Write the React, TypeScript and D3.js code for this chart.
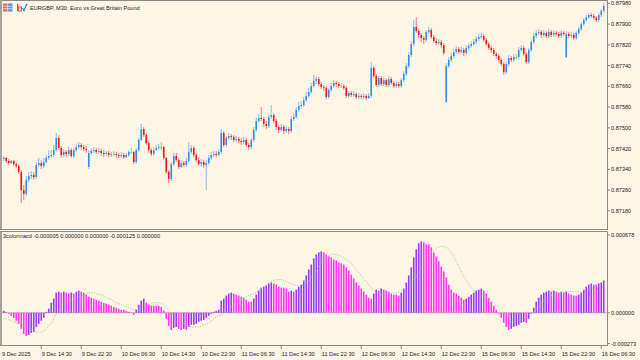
import React from 'react';
import { scaleBand, scaleLinear, line } from 'd3';

// EURGBP M30 candles (242 bars, 9 Dec 2025 -> 16 Dec 2025)
const opens = [
  0.87387,0.87380,0.87384,0.87372,0.87364,0.87372,0.87360,0.87353,0.87330,0.87260,
  0.87245,0.87299,0.87314,0.87318,0.87310,0.87357,0.87364,0.87353,0.87368,0.87384,
  0.87391,0.87395,0.87414,0.87461,0.87422,0.87395,0.87407,0.87399,0.87414,0.87391,
  0.87414,0.87426,0.87434,0.87426,0.87418,0.87349,0.87403,0.87411,0.87414,0.87407,
  0.87411,0.87403,0.87399,0.87403,0.87395,0.87399,0.87399,0.87395,0.87391,0.87395,
  0.87387,0.87395,0.87407,0.87407,0.87368,0.87414,0.87453,0.87495,0.87472,0.87441,
  0.87414,0.87399,0.87414,0.87422,0.87426,0.87426,0.87384,0.87330,0.87303,0.87360,
  0.87391,0.87376,0.87349,0.87364,0.87357,0.87372,0.87407,0.87422,0.87395,0.87376,
  0.87360,0.87368,0.87357,0.87364,0.87384,0.87395,0.87399,0.87395,0.87407,0.87480,
  0.87434,0.87461,0.87468,0.87465,0.87453,0.87457,0.87449,0.87445,0.87453,0.87434,
  0.87426,0.87453,0.87492,0.87526,0.87538,0.87534,0.87515,0.87507,0.87542,0.87549,
  0.87526,0.87503,0.87492,0.87503,0.87488,0.87495,0.87488,0.87534,0.87542,0.87569,
  0.87584,0.87588,0.87607,0.87623,0.87638,0.87661,0.87681,0.87688,0.87669,0.87657,
  0.87654,0.87619,0.87646,0.87661,0.87673,0.87669,0.87661,0.87661,0.87654,0.87623,
  0.87634,0.87627,0.87630,0.87619,0.87623,0.87619,0.87623,0.87615,0.87623,0.87731,
  0.87700,0.87665,0.87692,0.87669,0.87684,0.87665,0.87688,0.87673,0.87661,0.87669,
  0.87661,0.87684,0.87708,0.87738,0.87781,0.87823,0.87889,0.87873,0.87858,0.87846,
  0.87839,0.87870,0.87877,0.87850,0.87835,0.87827,0.87831,0.87819,0.87600,0.87738,
  0.87762,0.87777,0.87792,0.87804,0.87792,0.87800,0.87789,0.87808,0.87816,0.87823,
  0.87831,0.87843,0.87850,0.87854,0.87839,0.87823,0.87808,0.87800,0.87785,0.87777,
  0.87762,0.87746,0.87715,0.87746,0.87769,0.87762,0.87773,0.87773,0.87800,0.87808,
  0.87785,0.87754,0.87800,0.87831,0.87854,0.87866,0.87870,0.87858,0.87866,0.87854,
  0.87870,0.87858,0.87866,0.87862,0.87854,0.87866,0.87773,0.87862,0.87854,0.87858,
  0.87846,0.87866,0.87881,0.87900,0.87916,0.87927,0.87935,0.87931,0.87924,0.87916,
  0.87935,0.87951,
];

const highs = [
  0.87395,0.87391,0.87387,0.87380,0.87376,0.87376,0.87368,0.87360,0.87337,0.87279,
  0.87314,0.87330,0.87333,0.87330,0.87368,0.87384,0.87376,0.87384,0.87395,0.87414,
  0.87414,0.87434,0.87480,0.87472,0.87430,0.87418,0.87414,0.87426,0.87422,0.87422,
  0.87438,0.87445,0.87441,0.87434,0.87430,0.87414,0.87422,0.87426,0.87422,0.87422,
  0.87418,0.87414,0.87411,0.87411,0.87407,0.87411,0.87407,0.87403,0.87407,0.87403,
  0.87403,0.87414,0.87422,0.87411,0.87422,0.87461,0.87515,0.87503,0.87480,0.87449,
  0.87422,0.87426,0.87434,0.87438,0.87445,0.87430,0.87387,0.87337,0.87368,0.87403,
  0.87403,0.87384,0.87376,0.87372,0.87384,0.87445,0.87434,0.87430,0.87403,0.87387,
  0.87380,0.87376,0.87376,0.87395,0.87407,0.87411,0.87411,0.87418,0.87495,0.87488,
  0.87468,0.87480,0.87476,0.87472,0.87468,0.87465,0.87461,0.87465,0.87461,0.87441,
  0.87461,0.87503,0.87538,0.87553,0.87580,0.87542,0.87526,0.87553,0.87588,0.87557,
  0.87534,0.87511,0.87515,0.87511,0.87507,0.87503,0.87546,0.87557,0.87580,0.87600,
  0.87603,0.87619,0.87638,0.87654,0.87673,0.87704,0.87700,0.87696,0.87677,0.87665,
  0.87661,0.87654,0.87673,0.87684,0.87681,0.87677,0.87673,0.87669,0.87661,0.87642,
  0.87642,0.87642,0.87638,0.87634,0.87630,0.87634,0.87630,0.87634,0.87754,0.87738,
  0.87708,0.87700,0.87700,0.87696,0.87692,0.87700,0.87696,0.87681,0.87681,0.87677,
  0.87692,0.87719,0.87750,0.87792,0.87835,0.87916,0.87927,0.87881,0.87866,0.87854,
  0.87877,0.87889,0.87885,0.87858,0.87846,0.87843,0.87839,0.87827,0.87750,0.87773,
  0.87789,0.87804,0.87816,0.87812,0.87812,0.87808,0.87819,0.87827,0.87835,0.87843,
  0.87854,0.87862,0.87866,0.87862,0.87846,0.87831,0.87816,0.87808,0.87792,0.87785,
  0.87769,0.87754,0.87754,0.87781,0.87777,0.87785,0.87785,0.87812,0.87819,0.87816,
  0.87792,0.87808,0.87839,0.87866,0.87877,0.87881,0.87877,0.87877,0.87873,0.87881,
  0.87877,0.87877,0.87873,0.87870,0.87877,0.87873,0.87873,0.87870,0.87870,0.87866,
  0.87873,0.87889,0.87908,0.87924,0.87935,0.87943,0.87943,0.87939,0.87931,0.87943,
  0.87958,0.87981,
];

const lows = [
  0.87376,0.87372,0.87364,0.87357,0.87360,0.87353,0.87345,0.87322,0.87210,0.87222,
  0.87237,0.87291,0.87303,0.87299,0.87303,0.87349,0.87341,0.87345,0.87364,0.87376,
  0.87384,0.87387,0.87407,0.87414,0.87384,0.87387,0.87387,0.87391,0.87384,0.87384,
  0.87407,0.87418,0.87414,0.87411,0.87403,0.87341,0.87395,0.87403,0.87399,0.87399,
  0.87391,0.87387,0.87391,0.87387,0.87387,0.87391,0.87384,0.87384,0.87384,0.87380,
  0.87384,0.87387,0.87399,0.87360,0.87360,0.87407,0.87449,0.87465,0.87434,0.87403,
  0.87391,0.87391,0.87411,0.87414,0.87414,0.87376,0.87322,0.87287,0.87295,0.87353,
  0.87368,0.87341,0.87345,0.87349,0.87349,0.87364,0.87399,0.87387,0.87368,0.87353,
  0.87349,0.87345,0.87260,0.87357,0.87376,0.87387,0.87387,0.87391,0.87399,0.87426,
  0.87426,0.87453,0.87453,0.87445,0.87445,0.87441,0.87434,0.87438,0.87426,0.87414,
  0.87418,0.87445,0.87484,0.87519,0.87526,0.87503,0.87495,0.87499,0.87534,0.87519,
  0.87492,0.87480,0.87484,0.87476,0.87480,0.87476,0.87480,0.87526,0.87534,0.87561,
  0.87573,0.87580,0.87600,0.87615,0.87630,0.87654,0.87669,0.87661,0.87650,0.87642,
  0.87611,0.87611,0.87638,0.87654,0.87657,0.87654,0.87654,0.87646,0.87615,0.87615,
  0.87619,0.87619,0.87611,0.87611,0.87611,0.87611,0.87607,0.87611,0.87615,0.87692,
  0.87657,0.87657,0.87661,0.87661,0.87657,0.87657,0.87665,0.87654,0.87654,0.87654,
  0.87654,0.87677,0.87700,0.87731,0.87773,0.87816,0.87866,0.87846,0.87831,0.87823,
  0.87831,0.87862,0.87843,0.87827,0.87819,0.87819,0.87808,0.87781,0.87596,0.87731,
  0.87754,0.87769,0.87785,0.87785,0.87785,0.87777,0.87781,0.87800,0.87808,0.87816,
  0.87823,0.87835,0.87843,0.87831,0.87816,0.87800,0.87789,0.87777,0.87765,0.87754,
  0.87738,0.87704,0.87708,0.87738,0.87754,0.87754,0.87765,0.87765,0.87792,0.87777,
  0.87746,0.87746,0.87792,0.87823,0.87846,0.87858,0.87846,0.87850,0.87846,0.87846,
  0.87850,0.87850,0.87854,0.87846,0.87846,0.87854,0.87769,0.87846,0.87846,0.87839,
  0.87839,0.87858,0.87873,0.87893,0.87908,0.87920,0.87924,0.87916,0.87908,0.87908,
  0.87927,0.87943,
];

const closes = [
  0.87380,0.87384,0.87372,0.87364,0.87372,0.87360,0.87353,0.87330,0.87260,0.87245,
  0.87299,0.87314,0.87318,0.87310,0.87357,0.87364,0.87353,0.87368,0.87384,0.87391,
  0.87395,0.87414,0.87461,0.87422,0.87395,0.87407,0.87399,0.87414,0.87391,0.87414,
  0.87426,0.87434,0.87426,0.87418,0.87414,0.87403,0.87411,0.87414,0.87407,0.87411,
  0.87403,0.87399,0.87403,0.87395,0.87399,0.87399,0.87395,0.87391,0.87395,0.87387,
  0.87395,0.87407,0.87407,0.87368,0.87414,0.87453,0.87495,0.87472,0.87441,0.87414,
  0.87399,0.87414,0.87422,0.87426,0.87426,0.87384,0.87330,0.87303,0.87360,0.87391,
  0.87376,0.87349,0.87364,0.87357,0.87372,0.87407,0.87422,0.87395,0.87376,0.87360,
  0.87368,0.87357,0.87364,0.87384,0.87395,0.87399,0.87395,0.87407,0.87480,0.87434,
  0.87461,0.87468,0.87465,0.87453,0.87457,0.87449,0.87445,0.87453,0.87434,0.87426,
  0.87453,0.87492,0.87526,0.87538,0.87534,0.87515,0.87507,0.87542,0.87549,0.87526,
  0.87503,0.87492,0.87503,0.87488,0.87495,0.87488,0.87534,0.87542,0.87569,0.87584,
  0.87588,0.87607,0.87623,0.87638,0.87661,0.87681,0.87688,0.87669,0.87657,0.87654,
  0.87619,0.87646,0.87661,0.87673,0.87669,0.87661,0.87661,0.87654,0.87623,0.87634,
  0.87627,0.87630,0.87619,0.87623,0.87619,0.87623,0.87615,0.87623,0.87731,0.87700,
  0.87665,0.87692,0.87669,0.87684,0.87665,0.87688,0.87673,0.87661,0.87669,0.87661,
  0.87684,0.87708,0.87738,0.87781,0.87823,0.87889,0.87873,0.87858,0.87846,0.87839,
  0.87870,0.87877,0.87850,0.87835,0.87827,0.87831,0.87819,0.87789,0.87738,0.87762,
  0.87777,0.87792,0.87804,0.87792,0.87800,0.87789,0.87808,0.87816,0.87823,0.87831,
  0.87843,0.87850,0.87854,0.87839,0.87823,0.87808,0.87800,0.87785,0.87777,0.87762,
  0.87746,0.87715,0.87746,0.87769,0.87762,0.87773,0.87773,0.87800,0.87808,0.87785,
  0.87754,0.87800,0.87831,0.87854,0.87866,0.87870,0.87858,0.87866,0.87854,0.87870,
  0.87858,0.87866,0.87862,0.87854,0.87866,0.87862,0.87862,0.87854,0.87858,0.87846,
  0.87866,0.87881,0.87900,0.87916,0.87927,0.87935,0.87931,0.87924,0.87916,0.87935,
  0.87951,0.87970,
];

// 3colormacd histogram and its signal line
const macd = [
  0.000017,0.000017,0.000008,-0.000008,-0.000025,-0.000042,-0.000067,-0.000092,-0.000134,-0.000176,
  -0.000193,-0.000185,-0.000168,-0.00016,-0.000118,-0.000092,-0.000067,-0.000042,0.000008,0.000034,
  0.000084,0.000118,0.000168,0.000176,0.000168,0.000176,0.000168,0.00016,0.000168,0.00016,
  0.000176,0.000185,0.000176,0.000168,0.000151,0.000134,0.000126,0.000118,0.000109,0.000101,
  0.000092,0.000084,0.000076,0.000067,0.000059,0.00005,0.000042,0.000034,0.000025,0.000025,
  0.000017,0.000008,0.000004,-0.000017,0.000025,0.000067,0.000101,0.000118,0.000084,0.000067,
  0.000059,0.000059,0.000059,0.000059,0.00005,0.000017,-0.00005,-0.000109,-0.000143,-0.000126,
  -0.000118,-0.000134,-0.000143,-0.000134,-0.000143,-0.000118,-0.000101,-0.000101,-0.000092,-0.000076,
  -0.000067,-0.000059,-0.000042,-0.000025,-0.000008,0.000008,0.000017,0.000025,0.000101,0.000118,
  0.000143,0.00016,0.000168,0.00016,0.000151,0.000143,0.000134,0.000126,0.000109,0.000092,
  0.000092,0.000118,0.000151,0.000185,0.00021,0.000218,0.000227,0.000244,0.000252,0.000244,
  0.000235,0.000218,0.00021,0.00021,0.000202,0.000176,0.000185,0.000176,0.000193,0.000218,
  0.000235,0.000269,0.000311,0.000361,0.000403,0.000454,0.000487,0.000504,0.000512,0.000504,
  0.000487,0.00047,0.000462,0.000445,0.000437,0.00042,0.000412,0.000403,0.000378,0.000353,
  0.000319,0.000286,0.000252,0.000227,0.000202,0.000176,0.000151,0.000126,0.000118,0.00016,
  0.000193,0.000185,0.000202,0.000193,0.000185,0.000176,0.00016,0.000151,0.000151,0.000143,
  0.000168,0.000202,0.000252,0.000311,0.000378,0.000462,0.000529,0.00058,0.000596,0.000588,
  0.000571,0.000571,0.000546,0.000504,0.00047,0.000428,0.000386,0.000344,0.000294,0.000235,
  0.000193,0.000168,0.00016,0.000143,0.000126,0.000109,0.000118,0.000134,0.000151,0.000168,
  0.000185,0.000193,0.000202,0.000185,0.00016,0.000126,0.000092,0.000059,0.000025,-0.000008,
  -0.000042,-0.000084,-0.000118,-0.000143,-0.000134,-0.000118,-0.000109,-0.000101,-0.000084,-0.000076,
  -0.000084,-0.00005,-0.000008,0.000042,0.000092,0.000126,0.000151,0.000168,0.000176,0.000185,
  0.000176,0.000185,0.000176,0.000168,0.000176,0.000168,0.000176,0.00016,0.000151,0.000143,
  0.000143,0.000151,0.000168,0.000193,0.000218,0.000235,0.000244,0.000235,0.000235,0.000244,
  0.000252,0.000269,
];

const signal = [
  -0.000042,-0.00005,-0.00005,-0.000059,-0.000067,-0.000076,-0.000084,-0.000092,-0.000101,-0.000109,
  -0.000126,-0.000134,-0.000143,-0.000151,-0.00016,-0.00016,-0.00016,-0.000151,-0.000134,-0.000109,
  -0.000084,-0.00005,-0.000008,0.000025,0.00005,0.000067,0.000084,0.000101,0.000109,0.000118,
  0.000126,0.000134,0.000143,0.000151,0.00016,0.000168,0.000168,0.000168,0.00016,0.000151,
  0.000151,0.000143,0.000126,0.000118,0.000109,0.000092,0.000084,0.000076,0.000067,0.000059,
  0.00005,0.000042,0.000034,0.000025,0.000025,0.000034,0.000042,0.00005,0.000059,0.000067,
  0.000076,0.000084,0.000084,0.000084,0.000076,0.000067,0.00005,0.000025,0,-0.000025,
  -0.000042,-0.000059,-0.000076,-0.000092,-0.000101,-0.000109,-0.000118,-0.000118,-0.000118,-0.000118,
  -0.000109,-0.000101,-0.000092,-0.000084,-0.000067,-0.00005,-0.000034,-0.000025,-0.000017,0,
  0.000017,0.000034,0.00005,0.000067,0.000084,0.000101,0.000109,0.000126,0.000134,0.000143,
  0.000151,0.00016,0.000168,0.000185,0.000202,0.000218,0.000235,0.000252,0.00026,0.000269,
  0.000277,0.000277,0.000277,0.000269,0.00026,0.000252,0.000244,0.000235,0.000227,0.000227,
  0.000227,0.000235,0.000252,0.000269,0.000294,0.000319,0.000353,0.000386,0.000412,0.000437,
  0.000462,0.000479,0.000487,0.000487,0.000487,0.000479,0.00047,0.000462,0.000445,0.000428,
  0.000412,0.000386,0.000361,0.000336,0.000311,0.000286,0.00026,0.000235,0.00021,0.000185,
  0.000168,0.00016,0.000151,0.000151,0.000151,0.00016,0.00016,0.000168,0.000168,0.000176,
  0.000185,0.000193,0.00021,0.000227,0.000252,0.000277,0.000311,0.000344,0.000378,0.000412,
  0.000445,0.000479,0.000504,0.000521,0.000538,0.000546,0.000554,0.000554,0.000546,0.000529,
  0.000504,0.00047,0.000428,0.000386,0.000344,0.000302,0.000269,0.000235,0.00021,0.000185,
  0.000168,0.000151,0.000143,0.000134,0.000126,0.000118,0.000101,0.000084,0.000067,0.000042,
  0.000017,0,-0.000017,-0.000034,-0.00005,-0.000059,-0.000059,-0.000059,-0.00005,-0.000042,
  -0.000034,-0.000025,-0.000008,0.000008,0.000034,0.000059,0.000084,0.000101,0.000118,0.000134,
  0.000143,0.000151,0.00016,0.000168,0.000168,0.000176,0.000176,0.000176,0.000176,0.000176,
  0.000176,0.000176,0.000176,0.000185,0.000185,0.000193,0.000193,0.000202,0.000202,0.00021,
  0.00021,0.000218,
];

// a time label every 16 bars (8 hours)
const timeLabels = [
  '9 Dec 2025', '9 Dec 14:30', '9 Dec 22:30', '10 Dec 06:30', '10 Dec 14:30', '10 Dec 22:30',
  '11 Dec 06:30', '11 Dec 14:30', '11 Dec 22:30', '12 Dec 06:30', '12 Dec 14:30', '12 Dec 22:30',
  '15 Dec 06:30', '15 Dec 14:30', '15 Dec 22:30', '16 Dec 06:30',
];
const priceTicks = [0.8718, 0.8726, 0.8734, 0.8742, 0.875, 0.8758, 0.8766, 0.8774, 0.8782, 0.879, 0.8798];
const macdTicks = [0.000678, 0, -0.000273];
const priceDomain = [0.871097, 0.87993];
const macdDomain = [-0.000273, 0.000678];

const title = 'EURGBP, M30:  Euro vs Great Britain Pound';
const indicatorLegend = '3colormacd -0.000005 0.000000 0.000000 -0.000125 0.000000';

const BG = '#fdf5e6';
const FRAME = '#8c8a86';
const TEXT = '#1c1c1c';
const BULL = '#2f8ef0';
const BEAR = '#f01818';
const DOJI = '#5ee05e';
const UP = '#9b3bf2';
const DOWN = '#ff38f4';
const FONT = '"Liberation Sans", Arial, sans-serif';

const PLOT_R = 607;
const MAIN_B = 229;
const SUB_T = 231.5;
const SUB_B = 345.5;

export default function App() {
  const x = scaleBand<number>()
    .domain(closes.map((_, i) => i))
    .range([0, 605])
    .padding(0);
  const step = x.step();
  const cx = (i: number) => (x(i) ?? 0) + step / 2;

  const yP = scaleLinear().domain(priceDomain).range([MAIN_B, 0]);
  const yM = scaleLinear().domain(macdDomain).range([SUB_B, SUB_T]);

  // histogram colour follows direction of change
  const histColors: string[] = [];
  macd.forEach((v, i) => {
    if (i === 0) histColors.push(UP);
    else if (v > macd[i - 1]) histColors.push(UP);
    else if (v < macd[i - 1]) histColors.push(DOWN);
    else histColors.push(histColors[i - 1]);
  });

  const signalPath = line<number>()
    .x((_, i) => cx(i))
    .y(d => yM(d))(signal);

  const bodyW = 1.6;

  return (
    <svg
      width={640}
      height={360}
      style={{ position: 'absolute', left: 0, top: 0, display: 'block', background: BG }}
      fontFamily={FONT}
    >
      <rect x={0} y={0} width={640} height={360} fill={BG} />

      {/* main price window */}
      <g>
        {closes.map((c, i) => {
          const o = opens[i];
          const col = c > o ? BULL : c < o ? BEAR : DOJI;
          const top = yP(Math.max(o, c));
          const h = Math.max(1, Math.abs(yP(o) - yP(c)));
          return (
            <g key={i}>
              <line
                x1={cx(i)} x2={cx(i)} y1={yP(highs[i])} y2={yP(lows[i])}
                stroke={col} strokeWidth={1} strokeOpacity={col === DOJI ? 0.9 : 0.55}
              />
              <rect x={cx(i) - bodyW / 2} y={top} width={bodyW} height={h} fill={col} />
            </g>
          );
        })}
      </g>

      {/* indicator window */}
      <line x1={0} x2={PLOT_R} y1={yM(0)} y2={yM(0)} stroke="#a8a49c" strokeWidth={0.8} />
      <g>
        {macd.map((v, i) => {
          const y0 = yM(0);
          const y1 = yM(v);
          return (
            <rect
              key={i}
              x={cx(i) - bodyW / 2}
              y={Math.min(y0, y1)}
              width={bodyW}
              height={Math.max(0.6, Math.abs(y1 - y0))}
              fill={histColors[i]}
            />
          );
        })}
      </g>
      <path d={signalPath ?? ''} fill="none" stroke="#7fd87f" strokeWidth={1} strokeDasharray="1,1.5" />

      {/* frames */}
      <line x1={0} x2={PLOT_R} y1={0.5} y2={0.5} stroke={FRAME} />
      <line x1={1} x2={1} y1={0} y2={MAIN_B} stroke="#a8a298" strokeWidth={2} />
      <line x1={0} x2={PLOT_R} y1={MAIN_B + 0.5} y2={MAIN_B + 0.5} stroke={FRAME} />
      <line x1={PLOT_R + 0.5} x2={PLOT_R + 0.5} y1={0} y2={MAIN_B + 1} stroke={FRAME} />
      <line x1={0} x2={PLOT_R} y1={SUB_T} y2={SUB_T} stroke={FRAME} />
      <line x1={1} x2={1} y1={SUB_T} y2={SUB_B} stroke="#a8a298" strokeWidth={2} />
      <line x1={0} x2={PLOT_R + 1} y1={SUB_B} y2={SUB_B} stroke={FRAME} />
      <line x1={PLOT_R + 0.5} x2={PLOT_R + 0.5} y1={SUB_T} y2={SUB_B} stroke={FRAME} />

      {/* price axis */}
      {priceTicks.map(t => (
        <g key={t}>
          <line x1={PLOT_R} x2={PLOT_R + 3} y1={yP(t)} y2={yP(t)} stroke={FRAME} />
          <text x={611} y={yP(t)} dominantBaseline="central" fontSize={5.6} fill={TEXT}>
            {t.toFixed(5)}
          </text>
        </g>
      ))}

      {/* indicator axis */}
      {macdTicks.map(t => {
        const yy = Math.min(SUB_B - 2, Math.max(SUB_T + 3.5, yM(t)));
        return (
          <g key={t}>
            <line x1={PLOT_R} x2={PLOT_R + 3} y1={yy} y2={yy} stroke={FRAME} />
            <text x={611} y={yy} dominantBaseline="central" fontSize={5.6} fill={TEXT}>
              {t.toFixed(6)}
            </text>
          </g>
        );
      })}

      {/* time axis */}
      {timeLabels.map((lab, k) => {
        const xx = cx(k * 16);
        return (
          <g key={lab}>
            {k > 0 && <line x1={xx} x2={xx} y1={SUB_B} y2={SUB_B + 3.5} stroke={FRAME} />}
            <text x={k === 0 ? 2 : xx + 0.5} y={353.5} dominantBaseline="central" fontSize={5.6} fill={TEXT}>
              {lab}
            </text>
          </g>
        );
      })}

      {/* header icons and title */}
      <g>
        <rect x={3} y={3.5} width={4.5} height={8} fill="#e8606a" />
        <rect x={8} y={3.5} width={4.5} height={8} fill="#5b8fe0" />
        <line x1={3} x2={12.5} y1={6.2} y2={6.2} stroke="#fff" strokeWidth={0.7} />
        <line x1={3} x2={12.5} y1={8.8} y2={8.8} stroke="#fff" strokeWidth={0.7} />
        <rect x={17} y={4} width={1.4} height={7} fill="#e44" />
        <rect x={18.4} y={7} width={3} height={4} fill="none" stroke="#e44" strokeWidth={1} />
        <path d="M22.5,8 L24,10.5 L27,3.5" fill="none" stroke="#3b86e0" strokeWidth={1.3} />
      </g>
      <text x={30} y={7.5} dominantBaseline="central" fontSize={5.6} fill={TEXT}>
        {title}
      </text>
      <text x={3} y={235.5} dominantBaseline="central" fontSize={5.6} fill={TEXT}>
        {indicatorLegend}
      </text>
    </svg>
  );
}
